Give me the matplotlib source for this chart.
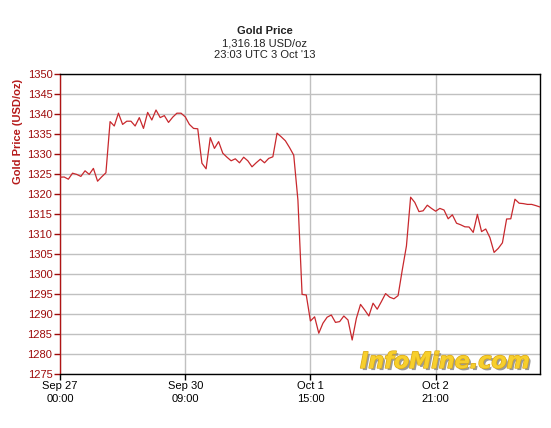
import matplotlib
matplotlib.use("Agg")
import matplotlib.pyplot as plt
import matplotlib.patheffects as pe

plt.rcParams["font.family"] = ["Liberation Sans", "DejaVu Sans"]

# hourly gold price (trading hours since Sep 27 00:00)
prices = [
    1324.2, 1324.25, 1323.7, 1325.2, 1324.9, 1324.4, 1325.8, 1324.9, 1326.4, 1323.2,
    1324.3, 1325.3, 1338.1, 1337.0, 1340.2, 1337.4, 1338.2, 1338.2, 1337.0, 1339.1,
    1336.4, 1340.4, 1338.5, 1341.0, 1339.1, 1339.6, 1337.9, 1339.2, 1340.2, 1340.2,
    1339.3, 1337.4, 1336.4, 1336.3, 1327.7, 1326.3, 1334.1, 1331.4, 1333.1, 1330.2,
    1329.2, 1328.3, 1328.8, 1327.8, 1329.2, 1328.3, 1326.8, 1327.8, 1328.7, 1327.8,
    1328.9, 1329.3, 1335.2, 1334.3, 1333.3, 1331.6, 1329.7, 1318.5, 1294.9, 1294.75,
    1288.25, 1289.3, 1285.2, 1287.7, 1289.2, 1289.75, 1287.9, 1288.1, 1289.5, 1288.5,
    1283.5, 1288.9, 1292.4, 1291.0, 1289.5, 1292.7, 1291.2, 1293.1, 1295.1, 1294.2,
    1293.8, 1294.6, 1301.0, 1307.0, 1319.2, 1317.9, 1315.6, 1315.8, 1317.2, 1316.4,
    1315.7, 1316.4, 1316.0, 1313.8, 1314.8, 1312.7, 1312.3, 1311.8, 1311.75, 1310.4,
    1314.9, 1310.6, 1311.25, 1309.1, 1305.4, 1306.4, 1307.8, 1313.75, 1313.8, 1318.7,
    1317.7, 1317.6, 1317.4, 1317.4, 1317.1, 1316.75,
]
hours = list(range(len(prices)))

tick_hours = [0, 30, 60, 90]
tick_labels = ["Sep 27\n00:00", "Sep 30\n09:00", "Oct 1\n15:00", "Oct 2\n21:00"]
y_ticks = list(range(1275, 1351, 5))

title = "Gold Price"
subtitle = "1,316.18 USD/oz\n23:03 UTC 3 Oct '13"

fig = plt.figure(figsize=(5.51, 4.28), dpi=100)
ax = fig.add_axes([60 / 551, 1 - 374 / 428, 480 / 551, 300 / 428])

ax.plot(hours, prices, color="#c8282d", linewidth=0.9, zorder=3)

ax.set_xlim(0, 115)
ax.set_ylim(1275, 1350)
ax.set_yticks(y_ticks)
ax.set_xticks(tick_hours)
ax.set_xticklabels(tick_labels, linespacing=1.4)

ax.grid(True, color="#c0c0c0", linewidth=1.0)
ax.set_axisbelow(True)

dark_red = "#9e0b0b"
ax.tick_params(axis="y", colors=dark_red, labelsize=8, length=4, width=1, direction="out", pad=1.5)
ax.tick_params(axis="x", colors="black", labelsize=8, length=4, width=1, direction="out", pad=1)
for side in ["top", "right", "bottom"]:
    ax.spines[side].set_color("black")
    ax.spines[side].set_linewidth(1.0)
ax.spines["left"].set_color("#b01515")
ax.spines["left"].set_linewidth(1.0)

fig.text(18 / 551, 1 - 131 / 428, "Gold Price (USD/oz)", rotation=90, ha="center", va="center",
         fontsize=8, fontweight="bold", color="#b51a1a")

fig.text(265 / 551, 1 - 31 / 428, title, ha="center", va="center", fontsize=8, fontweight="bold", color="#222222")
fig.text(265 / 551, 1 - 49.5 / 428, subtitle, ha="center", va="center", fontsize=8, color="#222222",
         linespacing=1.2)

# watermark
wm = fig.text(530 / 551, 1 - 368 / 428, "InfoMine.com", ha="right", va="baseline",
              fontsize=16, fontweight="heavy", style="italic", color="#f7cf2c", zorder=5,
              family="DejaVu Sans")
wm.set_path_effects([
    pe.withSimplePatchShadow(offset=(1.5, -1.5), shadow_rgbFace="#8f8f8f", alpha=0.9),
    pe.withStroke(linewidth=1.0, foreground="#d9a81a"),
])

fig.savefig("out.png", dpi=100)
